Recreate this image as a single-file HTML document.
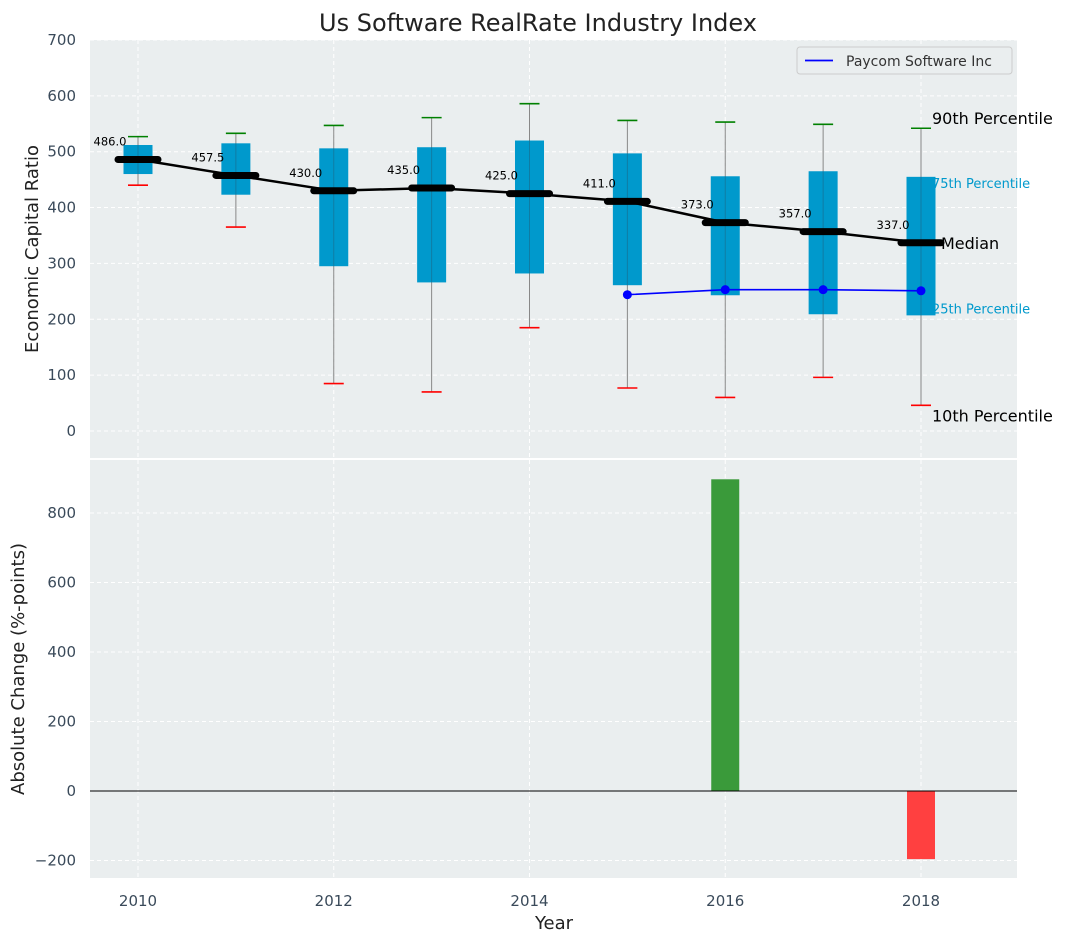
<!DOCTYPE html>
<html><head><meta charset="utf-8"><style>
html,body{margin:0;padding:0;background:#fff;}
svg{display:block;font-family:"DejaVu Sans","Liberation Sans",sans-serif;}
</style></head><body>
<svg id="chart" width="1067" height="942" viewBox="0 0 1067 942">
<text x="538" y="31" font-size="24" text-anchor="middle" fill="#222">Us Software RealRate Industry Index</text>
<g id="top"></g>
<g id="bot"></g>
</svg>
<script>
const years = [2010,2011,2012,2013,2014,2015,2016,2017,2018];
const p10 = [440,365,85,70,185,77,60,96,46];
const p25 = [460,423,295,266,282,261,243,209,207];
const medians = [486,457.5,430,435,425,411,373,357,337];
const p75 = [512,515,506,508,520,497,456,465,455];
const p90 = [527,533,547,561,586,556,553,549,542];
const companyYears = [2015,2016,2017,2018];
const companyValues = [244,253,253,251];
const changeYears = [2016,2018];
const changeValues = [897,-196];
const topTicks = [0,100,200,300,400,500,600,700];
const botTicks = [-200,0,200,400,600,800];
const xTicks = [2010,2012,2014,2016,2018];

const NS="http://www.w3.org/2000/svg";
const X=v=>138+(v-2010)*97.875;
const yT=v=>431-v*0.5586;
const yB=v=>791-v*0.3475;
function el(p,t,a,txt){const e=document.createElementNS(NS,t);for(const k in a)e.setAttribute(k,a[k]);if(txt!==undefined)e.textContent=txt;p.appendChild(e);return e;}
const topG=document.getElementById('top'),botG=document.getElementById('bot');

let r=el(topG,'rect',{x:90,y:40,width:927,height:418,fill:'#eaeeef'});


r=el(botG,'rect',{x:90,y:460,width:927,height:418,fill:'#eaeeef'});



topTicks.forEach(t=>{const y=yT(t);
 el(topG,'line',{x1:90,x2:1017,y1:y,y2:y,stroke:'#fff','stroke-dasharray':'4,3','stroke-width':1});
 const tx=el(topG,'text',{x:76,y:y+5,'font-size':15,'text-anchor':'end',fill:'#3a4a5a'},t);
 
 });
botTicks.forEach(t=>{const y=yB(t);
 el(botG,'line',{x1:90,x2:1017,y1:y,y2:y,stroke:'#fff','stroke-dasharray':'4,3','stroke-width':1});
 const tx=el(botG,'text',{x:76,y:y+5,'font-size':15,'text-anchor':'end',fill:'#3a4a5a'},t<0?'\u2212'+(-t):t);
 
 });
xTicks.forEach(t=>{const xx=X(t);
 el(topG,'line',{x1:xx,x2:xx,y1:40,y2:458,stroke:'#fff','stroke-dasharray':'4,3'});
 el(botG,'line',{x1:xx,x2:xx,y1:460,y2:878,stroke:'#fff','stroke-dasharray':'4,3'});
 const tx=el(botG,'text',{x:xx,y:906,'font-size':15,'text-anchor':'middle',fill:'#3a4a5a'},t);
 
 });

const last=years.length-1, ax=X(years[last])+11;
[[p90[last],'90th Percentile',16,'#000',-4],[p75[last],'75th Percentile',13,'#0099cc',11],[p25[last],'25th Percentile',13,'#0099cc',-2],[p10[last],'10th Percentile',16,'#000',16]].forEach(a=>{
 const t=el(topG,'text',{x:ax,y:yT(a[0])+a[4],'font-size':a[2],fill:a[3]},a[1]);
 
 });

years.forEach((yr,i)=>{const c=X(yr);
 el(topG,'line',{x1:c,x2:c,y1:yT(p10[i]),y2:yT(p90[i]),stroke:'#888','stroke-width':1});
 const b=el(topG,'rect',{x:c-14.5,y:yT(p75[i]),width:29,height:yT(p25[i])-yT(p75[i]),fill:'#0099cc'});
 
 
 el(topG,'line',{x1:c,x2:c,y1:yT(p25[i]),y2:yT(p75[i]),stroke:'#1a6a8a','stroke-width':1,opacity:0.6});
 el(topG,'line',{x1:c-10,x2:c+10,y1:yT(p90[i]),y2:yT(p90[i]),stroke:'green','stroke-width':1.6});
 el(topG,'line',{x1:c-10,x2:c+10,y1:yT(p10[i]),y2:yT(p10[i]),stroke:'red','stroke-width':1.6});
 const lb=el(topG,'text',{x:c-28,y:yT(medians[i])-14,'font-size':11.5,'text-anchor':'middle',fill:'#000'},medians[i].toFixed(1));
 
 
});
el(topG,'polyline',{points:years.map((y,i)=>X(y)+','+yT(medians[i])).join(' '),fill:'none',stroke:'#000','stroke-width':2.5});
years.forEach((yr,i)=>{const c=X(yr);
 const m=el(topG,'line',{x1:c-20,x2:c+20,y1:yT(medians[i]),y2:yT(medians[i]),stroke:'#000','stroke-width':7,'stroke-linecap':'round'});
 
 });
let mt=el(topG,'text',{x:ax+9,y:yT(medians[last])+6,'font-size':16,fill:'#000'},'Median');



const cl=el(topG,'polyline',{points:companyYears.map((y,i)=>X(y)+','+yT(companyValues[i])).join(' '),fill:'none',stroke:'blue','stroke-width':1.6});


companyYears.forEach((y,i)=>{const p=el(topG,'circle',{cx:X(y),cy:yT(companyValues[i]),r:4.5,fill:'blue'});
 
 });

const lg=el(topG,'g',{});


el(lg,'rect',{x:797,y:47,width:215,height:27,rx:3,fill:'#eaeeef',stroke:'#ccc'});
el(lg,'line',{x1:805,x2:833,y1:60.5,y2:60.5,stroke:'blue','stroke-width':1.8});
el(lg,'text',{x:846,y:66,'font-size':14,fill:'#333'},'Paycom Software Inc');

changeYears.forEach((y,i)=>{const v=changeValues[i];const c=X(y);
 const b=el(botG,'rect',{x:c-14,y:Math.min(yB(v),yB(0)),width:28,height:Math.abs(yB(v)-yB(0)),fill:v>=0?'#3a9a3a':'#ff4040'});
 
 });
el(botG,'line',{x1:90,x2:1017,y1:yB(0),y2:yB(0),stroke:'#000','stroke-width':1});

let t=el(topG,'text',{x:38,y:249,'font-size':18,'text-anchor':'middle',fill:'#222',transform:'rotate(-90 38 249)'},'Economic Capital Ratio');


t=el(botG,'text',{x:24,y:669,'font-size':18,'text-anchor':'middle',fill:'#222',transform:'rotate(-90 24 669)'},'Absolute Change (%-points)');


t=el(botG,'text',{x:554,y:929,'font-size':18,'text-anchor':'middle',fill:'#222'},'Year');


</script>
</body></html>
